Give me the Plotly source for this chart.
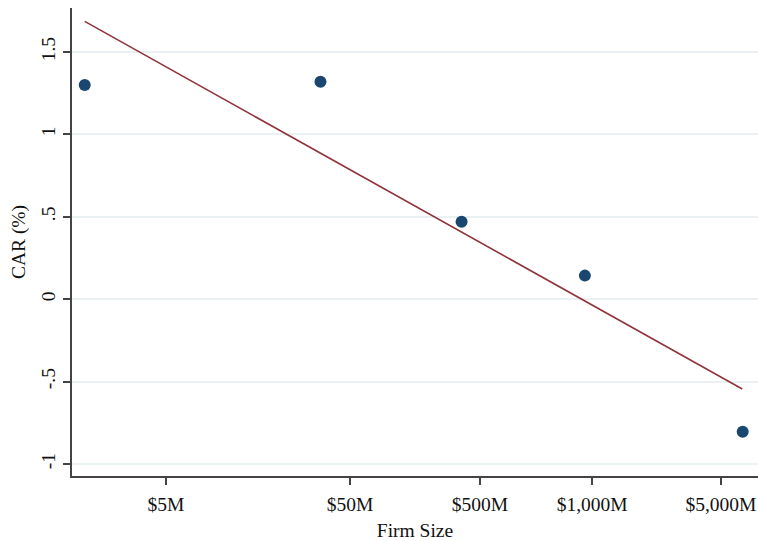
import plotly.graph_objects as go

# Binned firm-size index (position on the size axis) and mean CAR per bin
size_index = [1.86, 36.33, 56.96, 74.99, 98.06]
car_pct = [1.30, 1.32, 0.47, 0.143, -0.804]

# Linear fit line endpoints
fit_x = [1.86, 98.0]
fit_y = [1.686, -0.545]

# Size-axis tick positions and labels
tick_pos = [13.75, 40.66, 59.63, 76.06, 94.88]
tick_text = ["$5M", "$50M", "$500M", "$1,000M", "$5,000M"]

y_ticks = [-1, -0.5, 0, 0.5, 1, 1.5]
y_text = ["-1", "-.5", "0", ".5", "1", "1.5"]

FONT = "Liberation Serif"
FSIZE = 19.5
AXIS_COLOR = "#444444"

fig = go.Figure()
fig.add_trace(go.Scatter(
    x=size_index, y=car_pct, mode="markers",
    marker=dict(size=12, color="#1a476f"),
    showlegend=False,
))
fig.add_trace(go.Scatter(
    x=fit_x, y=fit_y, mode="lines",
    line=dict(color="#90353b", width=1.6),
    showlegend=False,
))

fig.update_layout(
    width=758, height=541,
    margin=dict(l=72, r=0, t=8, b=65),
    paper_bgcolor="white", plot_bgcolor="white",
    font=dict(family=FONT, size=FSIZE, color="#111111"),
    xaxis=dict(
        range=[0, 100.3],
        tickvals=tick_pos, ticktext=tick_text,
        showgrid=False, zeroline=False,
        showline=True, linecolor=AXIS_COLOR, linewidth=1.5,
        ticks="outside", ticklen=7, tickwidth=1.5, tickcolor=AXIS_COLOR,
        ticklabelstandoff=3,
        tickfont=dict(family=FONT, size=FSIZE),
        title=dict(text="Firm Size", font=dict(family=FONT, size=FSIZE), standoff=10),
    ),
    yaxis=dict(
        range=[-1.073, 1.767],
        tickvals=y_ticks, ticktext=y_text, tickangle=-90,
        showgrid=True, gridcolor="#eaf1f3", gridwidth=1.5,
        zeroline=False,
        showline=True, linecolor=AXIS_COLOR, linewidth=1.5,
        ticks="outside", ticklen=7, tickwidth=1.5, tickcolor=AXIS_COLOR,
        tickfont=dict(family=FONT, size=FSIZE),
        title=dict(text="CAR (%)", font=dict(family=FONT, size=FSIZE), standoff=8),
    ),
)

fig.write_html("out.html")
